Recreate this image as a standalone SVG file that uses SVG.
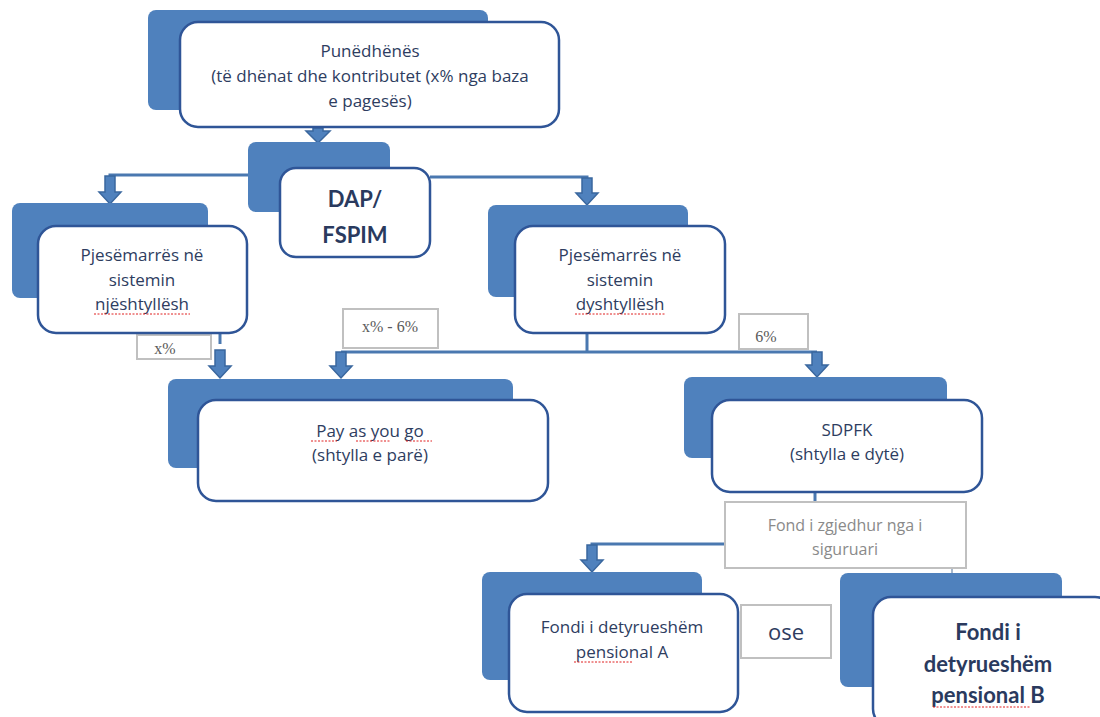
<svg xmlns="http://www.w3.org/2000/svg" width="1100" height="717" viewBox="0 0 1100 717">
<defs>
<style>
.back{fill:#4f81bd;}
.box{fill:#ffffff;stroke:#2f5597;stroke-width:2.5;}
.t{font-family:"Open Sans","Liberation Sans",sans-serif;font-size:17px;fill:#2e3d5f;text-anchor:middle;}
.tb{font-family:Lato,"Liberation Sans",sans-serif;font-size:22px;font-weight:bold;fill:#2a3a5e;text-anchor:middle;}
.lbl{fill:#ffffff;stroke:#c0c0c0;stroke-width:2;}
.ls{font-family:"Liberation Serif",serif;font-size:16px;fill:#5a5a5a;text-anchor:middle;}
.lg{font-family:"Open Sans","Liberation Sans",sans-serif;font-size:16px;fill:#8a8a8a;text-anchor:middle;}
.ln{fill:none;stroke:#4a78b0;stroke-width:3;}
.ar{fill:#4f81bd;stroke:#3a679e;stroke-width:1.5;}
.sq{fill:none;stroke:#e02020;stroke-width:1;stroke-dasharray:2 1.5;}
</style>
</defs>
<rect width="1100" height="717" fill="#ffffff"/>

<g id="connectors">
<path class="ar" d="M313,128 L323,128 L323,131 L330,131 L318,143 L306,131 L313,131 Z"/>
<path class="ln" d="M248,175 L110,175 L110,180"/>
<path class="ar" d="M105,176 L115,176 L115,192 L121,192 L110,204 L99,192 L105,192 Z"/>
<path class="ln" d="M430,177 L587,177 L587,180"/>
<path class="ar" d="M582,178 L592,178 L592,193 L598,193 L587,205 L576,193 L582,193 Z"/>
<path class="ln" d="M220,333 L220,344"/>
<path class="ar" d="M215,350 L225,350 L225,366 L231,366 L220,378 L209,366 L215,366 Z"/>
<path class="ln" d="M587,333 L587,352 M341,352 L817,352"/>
<path class="ar" d="M336,352 L346,352 L346,366 L352,366 L341,378 L330,366 L336,366 Z"/>
<path class="ar" d="M812,352 L822,352 L822,365 L828,365 L817,377 L806,365 L812,365 Z"/>
<path class="ln" d="M815,492 L815,503"/>
<path class="ln" d="M725,544 L592,544 L592,548"/>
<path class="ar" d="M587,545 L597,545 L597,560 L603,560 L592,572 L581,560 L587,560 Z"/>
<path fill="none" stroke="#8aa0bd" stroke-width="1.5" d="M952,569 L952,575"/>
</g>

<g id="labels">
<rect class="lbl" x="137" y="335" width="74" height="24"/>
<text class="ls" x="165" y="354">x%</text>
<rect class="lbl" x="343" y="309" width="95" height="39"/>
<text class="ls" x="390" y="332">x% - 6%</text>
<rect class="lbl" x="739" y="314" width="69" height="35"/>
<text class="ls" x="766" y="342">6%</text>
<rect class="lbl" x="725" y="502" width="241" height="66"/>
<text class="lg" x="845" y="531">Fond i zgjedhur nga i</text>
<text class="lg" x="845" y="555">siguruari</text>
<rect class="lbl" x="741" y="605" width="90" height="53"/>
<text class="t" x="786" y="640" style="font-size:22px">ose</text>
</g>

<g id="node-punedhenes">
<rect class="back" x="148" y="10" width="340" height="100" rx="8"/>
<rect class="box" x="180" y="22" width="379" height="105" rx="18"/>
<text class="t" x="370" y="57">Punëdhënës</text>
<text class="t" x="370" y="82">(të dhënat dhe kontributet (x% nga baza</text>
<text class="t" x="370" y="107">e pagesës)</text>
</g>

<g id="node-dap">
<rect class="back" x="248" y="142" width="142" height="70" rx="8"/>
<rect class="box" x="280" y="168" width="150" height="89" rx="16"/>
<text class="tb" x="355" y="207">DAP/</text>
<text class="tb" x="355" y="243">FSPIM</text>
</g>

<g id="node-njeshtyllesh">
<rect class="back" x="12" y="203" width="196" height="95" rx="8"/>
<rect class="box" x="38" y="226" width="209" height="107" rx="18"/>
<text class="t" x="142" y="261">Pjesëmarrës në</text>
<text class="t" x="142" y="286">sistemin</text>
<text class="t" x="142" y="310">njështyllësh</text>
<path class="sq" d="M94,314 L190,314"/>
</g>

<g id="node-dyshtyllesh">
<rect class="back" x="488" y="205" width="200" height="92" rx="8"/>
<rect class="box" x="515" y="226" width="210" height="107" rx="18"/>
<text class="t" x="620" y="261">Pjesëmarrës në</text>
<text class="t" x="620" y="286">sistemin</text>
<text class="t" x="620" y="310">dyshtyllësh</text>
<path class="sq" d="M575,314 L666,314"/>
</g>

<g id="node-payg">
<rect class="back" x="168" y="379" width="345" height="89" rx="8"/>
<rect class="box" x="198" y="400" width="350" height="101" rx="18"/>
<text class="t" x="370" y="437">Pay as you go</text>
<text class="t" x="370" y="461">(shtylla e parë)</text>
<path class="sq" d="M311,441 L337,441 M356,441 L391,441 M406,441 L432,441"/>
</g>

<g id="node-sdpfk">
<rect class="back" x="684" y="377" width="263" height="81" rx="8"/>
<rect class="box" x="712" y="400" width="270" height="92" rx="18"/>
<text class="t" x="847" y="436">SDPFK</text>
<text class="t" x="847" y="460">(shtylla e dytë)</text>
</g>

<g id="node-fondi-a">
<rect class="back" x="482" y="572" width="220" height="108" rx="8"/>
<rect class="box" x="509" y="594" width="229" height="118" rx="18"/>
<text class="t" x="622" y="633">Fondi i detyrueshëm</text>
<text class="t" x="622" y="658">pensional A</text>
<path class="sq" d="M574,662 L632,662"/>
</g>

<g id="node-fondi-b">
<rect class="back" x="840" y="573" width="222" height="114" rx="8"/>
<rect class="box" x="873" y="597" width="240" height="130" rx="18"/>
<text class="tb" x="988" y="640">Fondi i</text>
<text class="tb" x="988" y="672">detyrueshëm</text>
<text class="tb" x="988" y="703">pensional B</text>
<path class="sq" d="M933,707 L1030,707"/>
</g>
</svg>
